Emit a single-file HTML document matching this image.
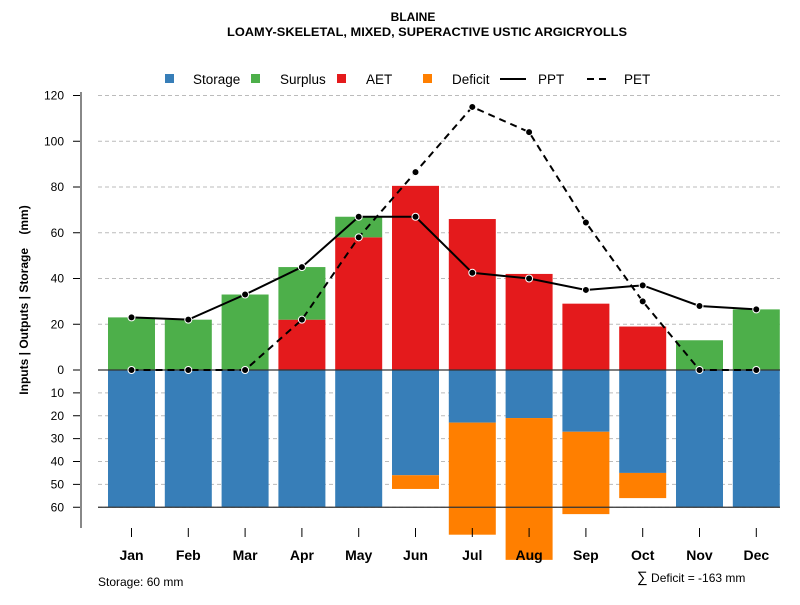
<!DOCTYPE html>
<html><head><meta charset="utf-8"><style>
body{margin:0;background:#fff}
svg text{font-family:"Liberation Sans",Arial,sans-serif}
</style></head><body>
<svg id="chart" width="800" height="600" xmlns="http://www.w3.org/2000/svg">
<text x="413" y="21" text-anchor="middle" font-size="12" font-weight="bold">BLAINE</text>
<text x="427" y="36" text-anchor="middle" font-size="12" font-weight="bold" textLength="400" lengthAdjust="spacingAndGlyphs">LOAMY-SKELETAL, MIXED, SUPERACTIVE USTIC ARGICRYOLLS</text>
<g id="legend">
<rect x="165" y="74" width="9" height="9" fill="#377eb8"/>
<text x="193" y="84" font-size="13.5">Storage</text>
<rect x="251" y="74" width="9" height="9" fill="#4daf4a"/>
<text x="280" y="84" font-size="13.5">Surplus</text>
<rect x="337" y="74" width="9" height="9" fill="#e41a1c"/>
<text x="366" y="84" font-size="13.5">AET</text>
<rect x="423" y="74" width="9" height="9" fill="#ff7f00"/>
<text x="452" y="84" font-size="13.5">Deficit</text>
<line x1="500" y1="79" x2="526" y2="79" stroke="#000" stroke-width="2"/>
<text x="538" y="84" font-size="13.5">PPT</text>
<line x1="587" y1="79" x2="609" y2="79" stroke="#000" stroke-width="2" stroke-dasharray="7,5"/>
<text x="624" y="84" font-size="13.5">PET</text>
</g>
<text transform="translate(28,300) rotate(-90)" text-anchor="middle" font-size="12" font-weight="bold">Inputs | Outputs | Storage&#160;&#160;&#160;&#160;(mm)</text>
<text x="98" y="586" font-size="12">Storage: 60 mm</text>
<text x="637" y="582" font-size="12"><tspan font-size="15">∑</tspan> Deficit = -163 mm</text>
<g id="grid"></g><g id="bars"></g><g id="axes"></g><g id="lines"></g>
</svg>
<script>
const months=["Jan","Feb","Mar","Apr","May","Jun","Jul","Aug","Sep","Oct","Nov","Dec"];
const storage=[60,60,60,60,60,46,23,21,27,45,60,60];
const deficit=[0,0,0,0,0,6,49,62,36,11,0,0];
const aet=[0,0,0,22,58,80.5,66,42,29,19,0,0];
const surplus=[23,22,33,23,9,0,0,0,0,0,13,26.5];
const ppt=[23,22,33,45,67,67,42.5,40,35,37,28,26.5];
const pet=[0,0,0,22,58,86.5,115,104,64.5,30,0,0];
const posTicks=[0,20,40,60,80,100,120];
const negTicks=[10,20,30,40,50,60];
const NS="http://www.w3.org/2000/svg";
const y=v=>370-v*2.2875;
const x=i=>131.5+i*56.8;
const BW=47;
function mk(p,t,a){const e=document.createElementNS(NS,t);for(const k in a)e.setAttribute(k,a[k]);p.appendChild(e);return e;}
const grid=document.getElementById('grid'),bars=document.getElementById('bars'),axes=document.getElementById('axes'),lines=document.getElementById('lines');
posTicks.concat(negTicks.map(v=>-v)).forEach(v=>{
 const g=mk(grid,'line',{x1:98,x2:780,y1:y(v),y2:y(v),stroke:'#bbb','stroke-dasharray':'4,3'});
 
 
 const t=mk(axes,'line',{x1:73,x2:81,y1:y(v),y2:y(v),stroke:'#000'});
 
 
 const l=mk(axes,'text',{x:64,y:y(v)+4,'text-anchor':'end','font-size':12});
 l.textContent=Math.abs(v);
 
 
});
const ax=mk(axes,'line',{x1:81,x2:81,y1:92,y2:528,stroke:'#888','stroke-width':2});


months.forEach((m,i)=>{
 const cx=x(i),x0=cx-BW/2;
 let r;
 r=mk(bars,'rect',{x:x0,y:y(0),width:BW,height:y(-storage[i])-y(0),fill:'#377eb8'});
 
 
 if(deficit[i]>0){r=mk(bars,'rect',{x:x0,y:y(-storage[i]),width:BW,height:y(-storage[i]-deficit[i])-y(-storage[i]),fill:'#ff7f00'});
 
 }
 if(aet[i]>0){r=mk(bars,'rect',{x:x0,y:y(aet[i]),width:BW,height:y(0)-y(aet[i]),fill:'#e41a1c'});
 
 }
 if(surplus[i]>0){r=mk(bars,'rect',{x:x0,y:y(aet[i]+surplus[i]),width:BW,height:y(aet[i])-y(aet[i]+surplus[i]),fill:'#4daf4a'});
 
 }
 const t=mk(axes,'line',{x1:cx,x2:cx,y1:528,y2:537,stroke:'#000'});
 
 
 const l=mk(axes,'text',{x:cx,y:560,'text-anchor':'middle','font-size':14,'font-weight':'bold'});
 l.textContent=m;
 
 
});
[0,-60].forEach(v=>{const l=mk(bars,'line',{x1:98,x2:780,y1:y(v),y2:y(v),stroke:'#333','stroke-width':1.2});
 
 });
function series(vals,name,dash){
 const p=mk(lines,'polyline',{points:vals.map((v,i)=>x(i)+','+y(v)).join(' '),fill:'none',stroke:'#000','stroke-width':2,'stroke-dasharray':dash});
 
 
 vals.forEach((v,i)=>{const c=mk(lines,'circle',{cx:x(i),cy:y(v),r:3.5,fill:'#000',stroke:'#fff','stroke-width':1});
 
 });
}
series(ppt,'ppt','none');
series(pet,'pet','7,5');
</script>
</body></html>
